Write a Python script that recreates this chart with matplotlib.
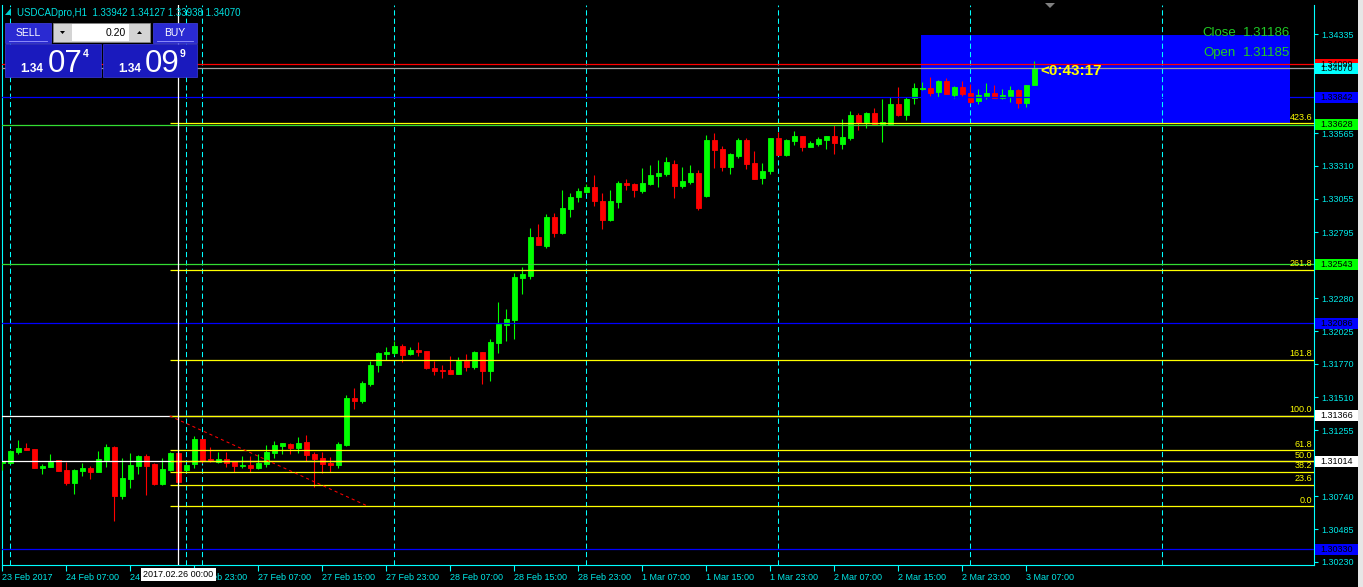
import numpy as np
import matplotlib.pyplot as plt
from matplotlib.patches import Rectangle, Polygon
from matplotlib.transforms import blended_transform_factory

plt.rcParams['font.family'] = ['Liberation Sans', 'DejaVu Sans']

# USDCADpro H1 candles, bar 0 = 23 Feb 2017 23:00 ... bar 129 = 3 Mar 2017 08:00
opens = [1.31000, 1.31000, 1.31085, 1.31116, 1.31108, 1.30961, 1.30969, 1.31023, 1.30945, 1.30844,
         1.30937, 1.30961, 1.30930, 1.31023, 1.31124, 1.30743, 1.30875, 1.30976, 1.31054, 1.30992,
         1.30836, 1.30945, 1.31077, 1.30945, 1.30992, 1.31186, 1.31031, 1.31007, 1.31031, 1.31015,
         1.30976, 1.30984, 1.30961, 1.30992, 1.31077, 1.31132, 1.31147, 1.31116, 1.31163, 1.31070,
         1.31038, 1.31000, 1.30984, 1.31140, 1.31505, 1.31482, 1.31614, 1.31762, 1.31847, 1.31855,
         1.31910, 1.31847, 1.31878, 1.31870, 1.31738, 1.31723, 1.31723, 1.31692, 1.31793, 1.31746,
         1.31863, 1.31715, 1.31933, 1.32073, 1.32111, 1.32438, 1.32453, 1.32757, 1.32687, 1.32912,
         1.32788, 1.32974, 1.33068, 1.33107, 1.33145, 1.33036, 1.32889, 1.33029, 1.33177, 1.33169,
         1.33114, 1.33169, 1.33231, 1.33246, 1.33324, 1.33153, 1.33184, 1.33254, 1.33076, 1.33511,
         1.33441, 1.33301, 1.33387, 1.33511, 1.33332, 1.33215, 1.33270, 1.33526, 1.33394, 1.33503,
         1.33542, 1.33457, 1.33480, 1.33511, 1.33542, 1.33480, 1.33526, 1.33705, 1.33651, 1.33721,
         1.33635, 1.33635, 1.33791, 1.33705, 1.33837, 1.33907, 1.33915, 1.33884, 1.33970, 1.33861,
         1.33923, 1.33876, 1.33814, 1.33853, 1.33876, 1.33837, 1.33853, 1.33900, 1.33798, 1.33942]
highs = [1.31015, 1.31101, 1.31178, 1.31155, 1.31108, 1.30992, 1.31070, 1.31023, 1.31007, 1.30953,
         1.31000, 1.30976, 1.31093, 1.31147, 1.31132, 1.31038, 1.31077, 1.31062, 1.31070, 1.31000,
         1.31038, 1.31085, 1.31085, 1.30992, 1.31209, 1.31186, 1.31124, 1.31085, 1.31085, 1.31015,
         1.31054, 1.31054, 1.31070, 1.31140, 1.31171, 1.31155, 1.31155, 1.31202, 1.31217, 1.31085,
         1.31085, 1.31046, 1.31163, 1.31528, 1.31583, 1.31637, 1.31793, 1.31863, 1.31902, 1.31949,
         1.31925, 1.31902, 1.31941, 1.31870, 1.31793, 1.31762, 1.31832, 1.31824, 1.31847, 1.31870,
         1.31863, 1.31964, 1.32251, 1.32197, 1.32477, 1.32524, 1.32827, 1.32858, 1.32936, 1.32943,
         1.33122, 1.33099, 1.33138, 1.33169, 1.33239, 1.33099, 1.33122, 1.33192, 1.33208, 1.33177,
         1.33293, 1.33317, 1.33355, 1.33379, 1.33355, 1.33301, 1.33317, 1.33278, 1.33550, 1.33565,
         1.33464, 1.33410, 1.33526, 1.33526, 1.33425, 1.33332, 1.33526, 1.33573, 1.33519, 1.33581,
         1.33542, 1.33503, 1.33534, 1.33542, 1.33627, 1.33674, 1.33736, 1.33721, 1.33728, 1.33759,
         1.33830, 1.33845, 1.33923, 1.33845, 1.33954, 1.33962, 1.34001, 1.33977, 1.33993, 1.33931,
         1.33970, 1.33946, 1.33907, 1.33954, 1.33939, 1.33907, 1.33931, 1.33907, 1.33939, 1.34127]
lows = [1.30945, 1.30992, 1.31070, 1.31101, 1.30961, 1.30914, 1.30969, 1.30937, 1.30828, 1.30758,
        1.30898, 1.30875, 1.30930, 1.30969, 1.30549, 1.30720, 1.30805, 1.30914, 1.30751, 1.30828,
        1.30828, 1.30937, 1.30844, 1.30937, 1.30961, 1.31000, 1.31007, 1.31000, 1.30969, 1.30930,
        1.30961, 1.30930, 1.30953, 1.30969, 1.31038, 1.31070, 1.31070, 1.31077, 1.31015, 1.30813,
        1.30922, 1.30930, 1.30961, 1.31132, 1.31419, 1.31466, 1.31598, 1.31707, 1.31800, 1.31839,
        1.31785, 1.31839, 1.31832, 1.31730, 1.31684, 1.31660, 1.31692, 1.31692, 1.31715, 1.31730,
        1.31614, 1.31637, 1.31855, 1.31949, 1.31964, 1.32314, 1.32430, 1.32695, 1.32671, 1.32757,
        1.32780, 1.32912, 1.33029, 1.33099, 1.32997, 1.32819, 1.32881, 1.32982, 1.33122, 1.33068,
        1.33099, 1.33161, 1.33145, 1.33231, 1.33060, 1.33138, 1.33169, 1.32967, 1.33068, 1.33293,
        1.33270, 1.33246, 1.33371, 1.33285, 1.33208, 1.33169, 1.33246, 1.33394, 1.33387, 1.33472,
        1.33425, 1.33457, 1.33464, 1.33441, 1.33402, 1.33441, 1.33511, 1.33588, 1.33604, 1.33635,
        1.33495, 1.33635, 1.33698, 1.33666, 1.33791, 1.33900, 1.33853, 1.33845, 1.33869, 1.33837,
        1.33853, 1.33798, 1.33791, 1.33830, 1.33837, 1.33830, 1.33806, 1.33760, 1.33767, 1.33938]
closes = [1.31015, 1.31093, 1.31116, 1.31101, 1.30961, 1.30976, 1.31007, 1.30937, 1.30844, 1.30945,
          1.30961, 1.30930, 1.31031, 1.31124, 1.30743, 1.30883, 1.30984, 1.31054, 1.30976, 1.30836,
          1.30953, 1.31077, 1.30852, 1.30984, 1.31186, 1.31023, 1.31023, 1.31031, 1.31000, 1.30976,
          1.30984, 1.30961, 1.31000, 1.31085, 1.31140, 1.31155, 1.31116, 1.31155, 1.31062, 1.31031,
          1.30992, 1.30984, 1.31147, 1.31505, 1.31482, 1.31622, 1.31762, 1.31855, 1.31863, 1.31910,
          1.31839, 1.31878, 1.31863, 1.31738, 1.31715, 1.31715, 1.31692, 1.31793, 1.31746, 1.31863,
          1.31715, 1.31941, 1.32081, 1.32120, 1.32446, 1.32469, 1.32757, 1.32695, 1.32912, 1.32788,
          1.32982, 1.33068, 1.33114, 1.33145, 1.33036, 1.32889, 1.33036, 1.33177, 1.33161, 1.33122,
          1.33177, 1.33239, 1.33254, 1.33340, 1.33153, 1.33192, 1.33254, 1.32982, 1.33511, 1.33433,
          1.33301, 1.33402, 1.33511, 1.33324, 1.33208, 1.33270, 1.33526, 1.33394, 1.33511, 1.33542,
          1.33457, 1.33488, 1.33519, 1.33542, 1.33488, 1.33534, 1.33705, 1.33651, 1.33721, 1.33635,
          1.33651, 1.33791, 1.33705, 1.33830, 1.33915, 1.33915, 1.33876, 1.33970, 1.33869, 1.33923,
          1.33869, 1.33806, 1.33861, 1.33876, 1.33837, 1.33861, 1.33900, 1.33798, 1.33939, 1.34070]

time_ticks = list(range(0, 129, 8))
time_labels = ['23 Feb 2017', '24 Feb 07:00', '24 Feb 15:00', '26 Feb 23:00', '27 Feb 07:00',
               '27 Feb 15:00', '27 Feb 23:00', '28 Feb 07:00', '28 Feb 15:00', '28 Feb 23:00',
               '1 Mar 07:00', '1 Mar 15:00', '1 Mar 23:00', '2 Mar 07:00', '2 Mar 15:00',
               '2 Mar 23:00', '3 Mar 07:00']
day_starts = [1, 23, 25, 49, 73, 97, 121, 145]
price_ticks = [1.34335, 1.34075, 1.33820, 1.33565, 1.33310, 1.33055, 1.32795, 1.32540, 1.32280,
               1.32025, 1.31770, 1.31510, 1.31255, 1.31000, 1.30740, 1.30485, 1.30230]
# scale labels that the price tags cover completely in the terminal
hidden_ticks = [1.34075, 1.33820, 1.32540, 1.31000]

# fibonacci retracement
fib_levels = [0.0, 23.6, 38.2, 50.0, 61.8, 100.0, 161.8, 261.8, 423.6]
fib_p0, fib_p100 = 1.30663, 1.31366
fib_bar0, fib_bar1 = 20.9, 45.7

# horizontal lines and objects
ask, bid = 1.34099, 1.34070
white_levels = [1.31366, 1.31014]
green_levels = [1.33628, 1.32543]
blue_levels = [1.33842, 1.32086, 1.30330]
vline_bar = 22
box_bars = (114.8, 160.9)
box_prices = (1.33641, 1.34327)
price_tags = [(1.34099, '1.34099', '#ff0000'), (1.34070, '1.34070', '#00ffff'),
              (1.33842, '1.33842', '#0000ff'), (1.33628, '1.33628', '#00ff00'),
              (1.32543, '1.32543', '#00ff00'), (1.32086, '1.32086', '#0000ff'),
              (1.31366, '1.31366', '#ffffff'), (1.31014, '1.31014', '#ffffff'),
              (1.30330, '1.30330', '#0000ff')]

W, H = 1363, 587
CYAN = '#00ffff'
fig = plt.figure(figsize=(W / 100, H / 100), dpi=100, facecolor='black')
ax = fig.add_axes([2 / W, 1 - 565 / H, 1312 / W, 560 / H])
ax.set_facecolor('black')
ymin, ymax = 1.302065, 1.345605
ax.set_xlim(-0.0625, 163.94)
ax.set_ylim(ymin, ymax)
ppx = (ymax - ymin) / 560  # price per pixel

for s in ['left', 'right', 'bottom']:
    ax.spines[s].set_color(CYAN)
    ax.spines[s].set_linewidth(0.8)
ax.spines['top'].set_visible(False)

ax.yaxis.tick_right()
ax.set_yticks(price_ticks)
ax.set_yticklabels(['' if p in hidden_ticks else f'{p:.5f}' for p in price_ticks])
ax.tick_params(axis='y', colors=CYAN, labelcolor='#00e8e8', labelsize=6.5, length=3, width=0.8, pad=2)
ax.set_xticks(time_ticks)
ax.set_xticklabels(time_labels)
ax.set_xticks(day_starts, minor=True)
ax.tick_params(axis='x', colors=CYAN, labelcolor='#00e8e8', labelsize=6.5, length=4, width=0.8, pad=1.5)
ax.tick_params(axis='x', which='minor', direction='in', length=3, width=0.8)
for lbl in ax.get_xticklabels():
    lbl.set_ha('left')

# rectangle object
ax.add_patch(Rectangle((box_bars[0], box_prices[0]), box_bars[1] - box_bars[0],
                       box_prices[1] - box_prices[0], fc='#0000ff', ec='none', zorder=1))

# grid (day separators)
for d in day_starts:
    ax.axvline(d, color=CYAN, lw=0.75, dashes=(5, 3), zorder=2)

# candles
x = np.arange(len(opens))
o, h, l, c = (np.array(v) for v in (opens, highs, lows, closes))
col = np.where(c >= o, '#00ff00', '#ff0000')
ax.vlines(x, l, h, colors=col, lw=0.8, zorder=4)
ax.bar(x, np.abs(c - o), width=0.55, bottom=np.minimum(o, c), color=col, edgecolor=col,
       linewidth=0.6, zorder=4)

# horizontal lines
for p in white_levels:
    ax.axhline(p, color='white', lw=0.9, zorder=5)
for p in green_levels:
    ax.axhline(p, color='#33dd33', lw=0.9, zorder=5)
for p in blue_levels:
    ax.axhline(p, color='#0000ff', lw=0.9, zorder=5)
ax.axhline(ask, color='#ff0000', lw=0.9, zorder=5)
ax.axhline(bid, color='#a0a0a0', lw=0.9, zorder=5)

# fibonacci
xr = ax.get_xlim()[1]
for lv in fib_levels:
    p = fib_p0 + (fib_p100 - fib_p0) * lv / 100
    ax.hlines(p, fib_bar0, xr, color='#ffff00', lw=0.9, zorder=6)
    ax.text(xr - 0.25, p + 1.5 * ppx, f'{lv:.1f}', color='#ffff00', fontsize=6.5,
            ha='right', va='bottom', zorder=7)
ax.plot([fib_bar0, fib_bar1], [fib_p100, fib_p0], color='#ff0000', lw=0.75,
        dashes=(3, 3), zorder=6)

# vertical line object
ax.axvline(vline_bar, color='white', lw=0.9, zorder=6)

# countdown
ax.text(x[-1] + 0.7, bid - 3 * ppx, '<0:43:17', color='#ffff00', fontsize=11, fontweight='bold',
        ha='left', va='center', zorder=8)

# overlay in pixel coordinates for the terminal widgets
ov = fig.add_axes([0, 0, 1, 1], zorder=10)
ov.set_xlim(0, W)
ov.set_ylim(H, 0)
ov.axis('off')
ty = blended_transform_factory(ov.transData, ax.transData)
tx = blended_transform_factory(ax.transData, ov.transData)

for p, lab, bg in price_tags:
    ov.add_patch(Rectangle((1315, p - 5.5 * ppx), 43, 11 * ppx, transform=ty, fc=bg, ec='none'))
    ov.text(1320, p, lab, transform=ty, va='center', ha='left', fontsize=6.5, color='black')

# window edge
ov.add_patch(Rectangle((1358, 0), 5, H, fc='#e6e6e6', ec='none'))

# time box of the vertical line
ov.text(vline_bar, 574.5, '2017.02.26 00:00', transform=tx, ha='center', va='center', fontsize=6.5,
        color='black', bbox=dict(boxstyle='square,pad=0.25', fc='white', ec='none'))

# close / open labels
for yy, name, val in [(33, 'Close', '1.31186'), (53, 'Open', '1.31185')]:
    ov.text(1236, yy, name, color='#22cc22', fontsize=9.5, ha='right', va='center')
    ov.text(1290, yy, val, color='#22cc22', fontsize=9.5, ha='right', va='center')

# chart header
ov.add_patch(Polygon([(11, 8), (11, 15), (5, 15)], closed=True, fc='#00d0d0', ec='none'))
ov.text(17, 16, 'USDCADpro,H1  1.33942 1.34127 1.33938 1.34070', color='#00e0e0',
        fontsize=7, ha='left', va='baseline')
ov.add_patch(Polygon([(1045, 3), (1055, 3), (1050, 8)], closed=True, fc='#808080', ec='none'))

# one-click trading panel
for x0, w, lab in [(5, 46, 'SELL'), (153, 44, 'BUY')]:
    ov.add_patch(Rectangle((x0, 23), w, 20, fc='#2a2ad2', ec='#4444e8', lw=0.5))
    ov.text(x0 + w / 2, 32.5, lab, color='white', fontsize=7.5, ha='center', va='center')
    ov.plot([x0 + 4, x0 + w - 4], [41, 41], color='#9a9aff', lw=0.6)
ov.add_patch(Rectangle((53, 23), 97, 19, fc='#d4d4d4', ec='#8c8c8c', lw=0.5))
ov.add_patch(Rectangle((72, 24), 57, 17, fc='white', ec='none'))
ov.text(126, 33, '0.20', color='black', fontsize=7.5, ha='right', va='center')
ov.add_patch(Polygon([(60, 31), (65, 31), (62.5, 34)], closed=True, fc='black'))
ov.add_patch(Polygon([(137, 34), (142, 34), (139.5, 31)], closed=True, fc='black'))
for x0, w in [(5, 96), (103, 94)]:
    ov.add_patch(Rectangle((x0, 44), w, 33, fc='#1a1abe', ec='#3a3ae0', lw=0.5))
for x0, a, b, s in [(20.5, '07', 47.5, '4'), (118, '09', 144.5, '9')]:
    ov.text(x0, 71.8, '1.34', color='white', fontsize=8.5, fontweight='bold', ha='left', va='baseline')
    ov.text(b, 71.8, a, color='white', fontsize=22.5, ha='left', va='baseline')
    ov.text(b + 35.5, 56.8, s, color='white', fontsize=7.5, fontweight='bold', ha='left', va='baseline')

fig.savefig('out.png', dpi=100, facecolor='black')
